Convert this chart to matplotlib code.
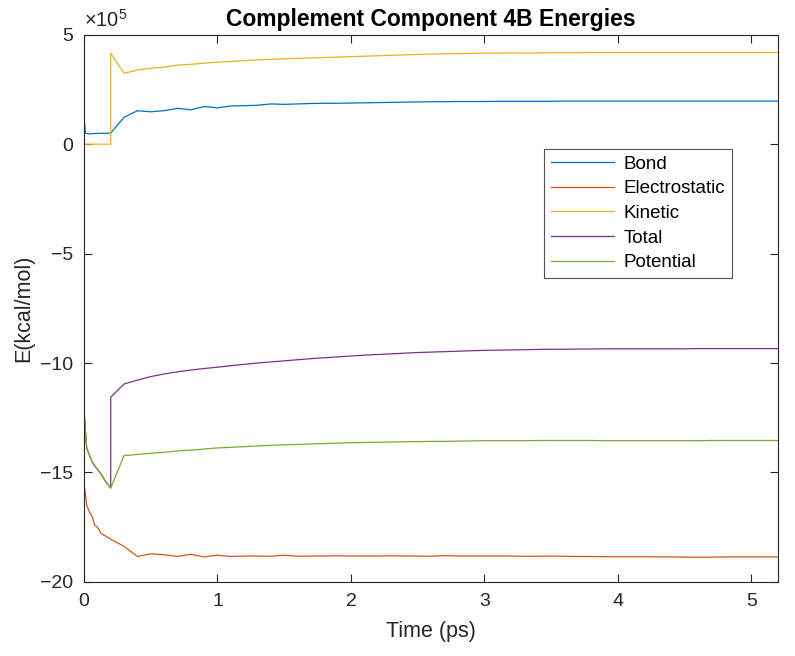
"""
Complement Component 4B energies
"""

import numpy as np
import matplotlib.pyplot as plt

plt.rcParams['font.family'] = ['Liberation Sans', 'DejaVu Sans']
plt.rcParams['mathtext.fontset'] = 'custom'
plt.rcParams['mathtext.rm'] = 'Liberation Sans'
plt.rcParams['mathtext.it'] = 'Liberation Sans:italic'

# time (ps); first part is sampled finer, step at 0.2 shows up twice
time = [0, 0.01, 0.02, 0.04, 0.06, 0.08, 0.1, 0.13, 0.16, 0.2, 0.2,
        0.3, 0.4, 0.5, 0.6, 0.7, 0.8, 0.9, 1.0, 1.1, 1.2,
        1.3, 1.4, 1.5, 1.6, 1.7, 1.8, 1.9, 2.0, 2.1, 2.2,
        2.3, 2.4, 2.5, 2.6, 2.7, 2.8, 2.9, 3.0, 3.1, 3.2,
        3.3, 3.4, 3.5, 3.6, 3.7, 3.8, 3.9, 4.0, 4.1, 4.2,
        4.3, 4.4, 4.5, 4.6, 4.7, 4.8, 4.9, 5.0, 5.1, 5.2]

# energies in units of 1e5 kcal/mol
bond = [1.26, 0.53, 0.49, 0.47, 0.48, 0.49, 0.49, 0.50, 0.50, 0.51, 0.51,
        1.23, 1.53, 1.48, 1.53, 1.64, 1.57, 1.72, 1.66, 1.75, 1.76,
        1.78, 1.84, 1.82, 1.84, 1.86, 1.87, 1.87, 1.88, 1.89, 1.90,
        1.91, 1.92, 1.93, 1.94, 1.94, 1.95, 1.95, 1.95, 1.96, 1.96,
        1.96, 1.96, 1.96, 1.97, 1.97, 1.97, 1.97, 1.97, 1.97, 1.97,
        1.97, 1.97, 1.97, 1.97, 1.97, 1.97, 1.97, 1.97, 1.97, 1.97]

electrostatic = [-15.56, -15.94, -16.5, -16.8, -17.0, -17.4, -17.5, -17.8, -17.9, -18.05, -18.05,
                 -18.38, -18.84, -18.72, -18.76, -18.84, -18.74, -18.86, -18.78, -18.84, -18.82,
                 -18.82, -18.83, -18.78, -18.83, -18.82, -18.82, -18.81, -18.82, -18.82, -18.82,
                 -18.81, -18.82, -18.82, -18.83, -18.80, -18.82, -18.82, -18.82, -18.82, -18.82,
                 -18.83, -18.83, -18.82, -18.83, -18.84, -18.84, -18.85, -18.85, -18.85, -18.85,
                 -18.86, -18.86, -18.87, -18.87, -18.87, -18.86, -18.86, -18.86, -18.86, -18.86]

kinetic = [0, 0, 0, 0, 0, 0, 0, 0, 0, 0, 4.16,
           3.24, 3.39, 3.47, 3.52, 3.61, 3.65, 3.70, 3.75, 3.78, 3.82,
           3.85, 3.88, 3.90, 3.92, 3.94, 3.96, 3.98, 4.00, 4.02, 4.04,
           4.06, 4.08, 4.10, 4.12, 4.13, 4.14, 4.15, 4.16, 4.16, 4.17,
           4.17, 4.17, 4.18, 4.18, 4.18, 4.19, 4.19, 4.19, 4.19, 4.19,
           4.19, 4.19, 4.19, 4.19, 4.19, 4.19, 4.19, 4.19, 4.19, 4.19]

total = [-12.17, -13.05, -13.89, -14.2, -14.5, -14.7, -14.85, -15.1, -15.4, -15.71, -11.56,
         -10.96, -10.78, -10.62, -10.50, -10.40, -10.32, -10.25, -10.19, -10.12, -10.06,
         -10.00, -9.95, -9.90, -9.85, -9.80, -9.76, -9.72, -9.68, -9.64, -9.61,
         -9.58, -9.55, -9.52, -9.50, -9.48, -9.46, -9.44, -9.42, -9.41, -9.40,
         -9.39, -9.38, -9.37, -9.37, -9.36, -9.36, -9.35, -9.35, -9.35, -9.35,
         -9.35, -9.35, -9.35, -9.34, -9.34, -9.34, -9.34, -9.34, -9.34, -9.34]

potential = [-12.17, -13.05, -13.89, -14.2, -14.5, -14.7, -14.85, -15.1, -15.4, -15.71, -15.71,
             -14.23, -14.18, -14.12, -14.08, -14.02, -13.98, -13.93, -13.88, -13.85, -13.82,
             -13.79, -13.76, -13.74, -13.72, -13.70, -13.68, -13.66, -13.64, -13.63, -13.62,
             -13.61, -13.60, -13.59, -13.58, -13.58, -13.57, -13.56, -13.55, -13.55, -13.55,
             -13.55, -13.54, -13.54, -13.54, -13.54, -13.54, -13.55, -13.55, -13.55, -13.55,
             -13.55, -13.55, -13.55, -13.55, -13.54, -13.54, -13.54, -13.54, -13.54, -13.54]

fig = plt.figure(figsize=(7.95, 6.56), dpi=100)
ax = fig.add_axes([0.1057, 0.113, 0.873, 0.834])

ax.plot(time, bond, color="#0072BD", lw=0.9, label="Bond")
ax.plot(time, electrostatic, color="#D95319", lw=0.9, label="Electrostatic")
ax.plot(time, kinetic, color="#EDB120", lw=0.9, label="Kinetic")
ax.plot(time, total, color="#7E2F8E", lw=0.9, label="Total")
ax.plot(time, potential, color="#77AC30", lw=0.9, label="Potential")

ax.set_xlim(0, 5.2)
ax.set_ylim(-20, 5)
ax.set_xticks([0, 1, 2, 3, 4, 5])
ax.set_yticks([-20, -15, -10, -5, 0, 5])
ax.set_yticklabels(["\u221220", "\u221215", "\u221210", "\u22125", "0", "5"])

dark = "#262626"
for s in ax.spines.values():
    s.set_color(dark)
    s.set_linewidth(0.8)
ax.tick_params(direction="in", top=True, right=True, length=6, width=0.8,
               colors=dark, labelsize=14, pad=8)

ax.set_xlabel("Time (ps)", fontsize=15.5, color=dark, labelpad=8)
ax.set_ylabel("E(kcal/mol)", fontsize=15.5, color=dark, labelpad=4)
ax.set_title("Complement Component 4B Energies", fontsize=16.5,
             fontweight="bold", color="black", pad=6)
ax.text(0.0, 1.008, r"$\times10^{5}$", transform=ax.transAxes,
        fontsize=14.5, color=dark, ha="left", va="bottom")

leg = ax.legend(loc="upper left", bbox_to_anchor=(0.663, 0.791), fontsize=13.5,
                frameon=True, fancybox=False, edgecolor=dark, handlelength=3.4,
                borderpad=0.35, labelspacing=0.4, handletextpad=0.5,
                borderaxespad=0)
leg.get_frame().set_linewidth(0.8)

plt.savefig("out.png", dpi=100)
